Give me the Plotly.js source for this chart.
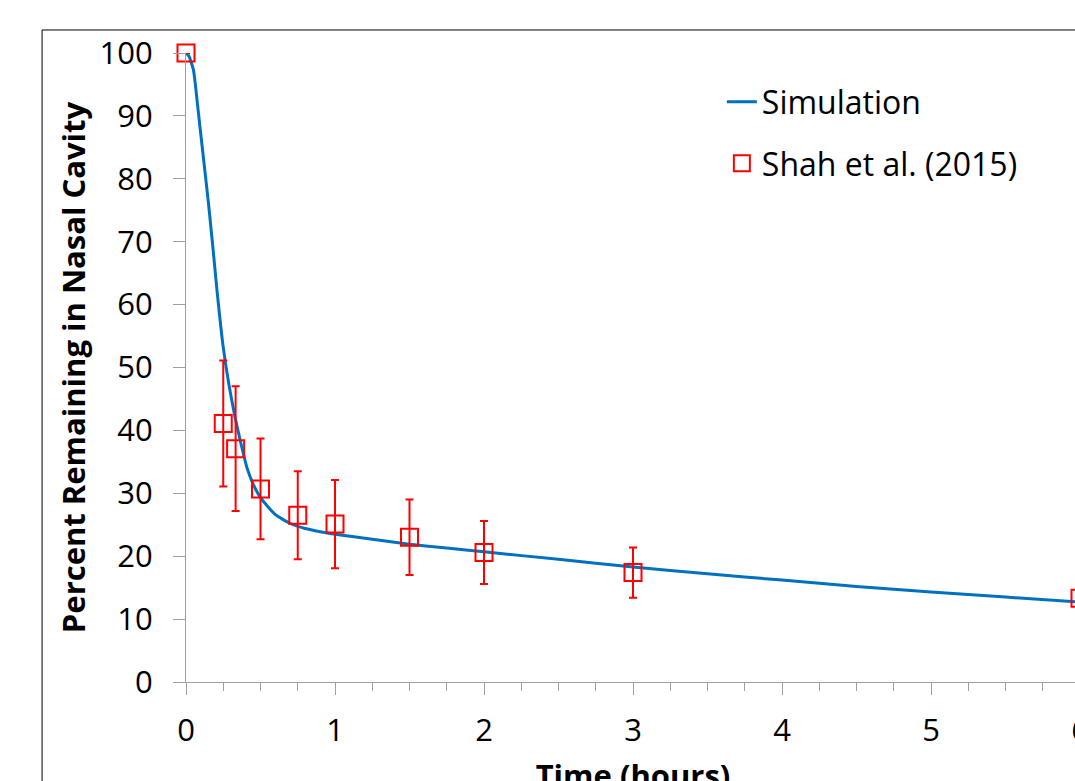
<!DOCTYPE html>
<html>
<head>
<meta charset="utf-8">
<script src="https://cdn.plot.ly/plotly-3.0.1.min.js"></script>
<style>
  html, body { margin: 0; padding: 0; overflow: hidden; background: #fff; }
  #chart { width: 1100px; height: 800px; }
</style>
</head>
<body>
<div id="chart"></div>
<script>
// Simulation curve (time in hours, percent remaining)
const simTime = [0, 0.02, 0.05, 0.08, 0.11, 0.15, 0.18, 0.21, 0.25, 0.29, 0.33, 0.37, 0.41, 0.45, 0.5, 0.6, 0.7, 0.8, 0.9, 1.0, 1.25, 1.5, 1.75, 2.0, 2.5, 3.0, 3.5, 4.0, 4.5, 5.0, 5.5, 6.0];
const simPercent = [100, 99.5, 97.3, 91.2, 84.8, 76.3, 69.2, 61.8, 53.2, 47.0, 42.0, 37.8, 34.0, 31.5, 29.3, 26.6, 25.2, 24.4, 23.9, 23.5, 22.7, 21.9, 21.3, 20.7, 19.5, 18.3, 17.2, 16.2, 15.2, 14.3, 13.5, 12.7];

// Shah et al. (2015) observations
const obsTime = [0, 0.25, 0.333, 0.5, 0.75, 1, 1.5, 2, 3, 6];
const obsPercent = [100, 41.1, 37.1, 30.7, 26.5, 25.1, 23.0, 20.6, 17.4, 13.3];
const obsError = [0, 10.0, 9.9, 8.0, 7.0, 7.0, 6.0, 5.0, 4.0, 3.0];

const xTickVals = [0, 1, 2, 3, 4, 5, 6];
const xTickText = ['0', '1', '2', '3', '4', '5', '6'];
const yTickVals = [0, 10, 20, 30, 40, 50, 60, 70, 80, 90, 100];
const yTickText = ['0', '10', '20', '30', '40', '50', '60', '70', '80', '90', '100'];

const axisGray = '#a0a0a0';
const fontFam = '"Open Sans", Lato, sans-serif';

const traces = [
  {
    x: simTime, y: simPercent,
    type: 'scatter', mode: 'lines',
    name: 'Simulation',
    legendgroup: 'a',
    line: { color: '#0070c0', width: 3, shape: 'spline', smoothing: 0.5 },
    cliponaxis: false
  },
  {
    x: obsTime, y: obsPercent,
    type: 'scatter', mode: 'markers',
    name: 'Shah et al. (2015)',
    legendgroup: 'b',
    marker: { symbol: 'square-open', size: 17, color: '#ff0000', line: { color: '#ff0000', width: 2 } },
    error_y: { type: 'data', array: obsError, visible: true, color: '#ff0000', thickness: 2, width: 4 },
    cliponaxis: false
  }
];

const layout = {
  width: 1100, height: 800,
  margin: { l: 186, r: 20, t: 53, b: 118 },
  paper_bgcolor: '#ffffff', plot_bgcolor: '#ffffff',
  font: { family: fontFam, color: '#000000', size: 31 },
  showlegend: true,
  legend: {
    x: 0.5994, y: 0.966, xanchor: 'left', yanchor: 'top',
    bgcolor: 'rgba(0,0,0,0)', borderwidth: 0,
    traceorder: 'grouped', tracegroupgap: 17,
    font: { family: fontFam, size: 32, color: '#000000' }
  },
  xaxis: {
    range: [0, 6],
    tickmode: 'array', tickvals: xTickVals, ticktext: xTickText,
    ticks: 'outside', ticklen: 12, tickwidth: 1, tickcolor: axisGray,
    minor: { dtick: 0.25, ticks: 'outside', ticklen: 8, tickwidth: 1, tickcolor: axisGray, showgrid: false },
    showline: true, linecolor: axisGray, linewidth: 1,
    showgrid: false, zeroline: false,
    ticklabelstandoff: 9,
    tickfont: { family: fontFam, size: 31, color: '#000000' },
    title: { text: '<b>Time (hours)</b>', standoff: 16, font: { family: fontFam, size: 31, color: '#000000' } }
  },
  yaxis: {
    range: [0, 100],
    tickmode: 'array', tickvals: yTickVals, ticktext: yTickText,
    ticks: 'outside', ticklen: 12, tickwidth: 1, tickcolor: axisGray,
    showline: true, linecolor: axisGray, linewidth: 1,
    showgrid: false, zeroline: false,
    ticklabelstandoff: 14,
    tickfont: { family: fontFam, size: 31, color: '#000000' },
    title: { text: '<b>Percent Remaining in Nasal Cavity</b>', standoff: 4, font: { family: fontFam, size: 31, color: '#000000' } }
  },
  shapes: [
    { type: 'rect', xref: 'paper', yref: 'paper', x0: -0.161, x1: 1.02, y0: -0.2, y1: 1.0366,
      line: { color: '#000000', width: 1 }, fillcolor: 'rgba(0,0,0,0)', layer: 'below' }
  ]
};

Plotly.newPlot('chart', traces, layout, { displayModeBar: false, staticPlot: true });
</script>
</body>
</html>
